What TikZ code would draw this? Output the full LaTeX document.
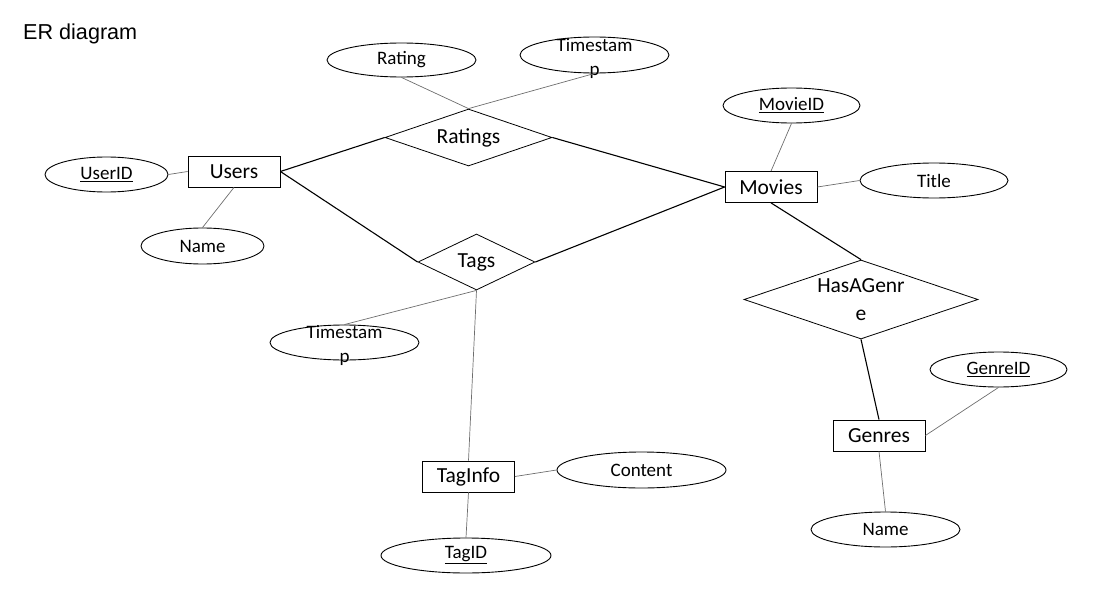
\documentclass[tikz,border=0pt]{standalone}
\usepackage{fontspec}
\setmainfont{Carlito}
\newfontfamily\titlefont{Liberation Sans}
\usepackage{xcolor}
\usepackage{tikz}
\usetikzlibrary{shapes.geometric}
\definecolor {linegray} {RGB}{110, 110, 110}

\tikzset{
	entity/.style={draw, thick, rectangle, minimum width=92pt, minimum height=31pt, inner sep=0pt, font=\fontsize{21.5}{26}\selectfont},
	attribute/.style={draw, line width=0.9pt, ellipse, minimum height=35pt, inner sep=0pt, font=\fontsize{19}{24}\selectfont},
	relation/.style={draw, thick, diamond, inner sep=0pt, aspect=2.95, align=center, font=\fontsize{21.5}{28}\selectfont},
	splitlabel/.style={align=center, inner sep=0pt, yshift=-3pt, font=\fontsize{19}{24}\selectfont},
	link/.style={draw, line width=1.1pt},
	attrlink/.style={draw, linegray, line width=0.7pt}
}

\begin{document}
\begin{tikzpicture}[x=1pt, y=-1pt]

	\useasboundingbox (0, 0) rectangle (1095, 594);

	\node [anchor=base west, inner sep=0pt, font=\titlefont\fontsize{21.6}{26}\selectfont] (heading) at (23, 40) {ER diagram};

	% Draw entities
	\node [entity] (users)   at (234, 171.5)   {Users};
	\node [entity] (movies)  at (771, 187)     {Movies};
	\node [entity] (genres)  at (879, 435.5)   {Genres};
	\node [entity] (taginfo) at (468.5, 476.5) {TagInfo};

	% Draw relationships
	\node [relation, minimum width=167pt, minimum height=57pt] (ratings)  at (468.5, 137.5) {Ratings};
	\node [relation, minimum width=117pt, minimum height=56pt] (tags)     at (476.5, 262)   {Tags};
	\node [relation, minimum width=234pt, minimum height=79pt] (hasgenre) at (861, 299.5)   {HasAGenr\\e};

	% Draw attributes
	\node [attribute, minimum width=149pt, minimum height=34pt] (rating) at (401.5, 60) {Rating};
	\node [attribute, minimum width=149pt, minimum height=36pt, label={[splitlabel]center:Timestam\\p}] (tsrating) at (594.5, 55) {};
	\node [attribute, minimum width=123pt] (userid)    at (106.5, 174.5) {\underline{UserID}};
	\node [attribute, minimum width=123pt, minimum height=36pt] (username) at (202.5, 246) {Name};
	\node [attribute, minimum width=137pt] (movieid)   at (791.5, 105.5) {\underline{MovieID}};
	\node [attribute, minimum width=148pt] (title)     at (934, 180.5)   {Title};
	\node [attribute, minimum width=137pt] (genreid)   at (998.5, 369.5) {\underline{GenreID}};
	\node [attribute, minimum width=149pt] (genrename) at (885.5, 529.5) {Name};
	\node [attribute, minimum width=149pt, label={[splitlabel]center:Timestam\\p}] (tstag) at (344.5, 342.5) {};
	\node [attribute, minimum width=169pt, minimum height=36pt] (content) at (641.5, 470) {Content};
	\node [attribute, minimum width=170pt] (tagid)     at (466, 555.5)   {\underline{TagID}};

	% Draw relationship links
	\path [link] (users.east) -- (ratings.west);
	\path [link] (users.east) -- (tags.west);
	\path [link] (ratings.east) -- (movies.west);
	\path [link] (tags.east) -- (movies.west);
	\path [link] (movies.south) -- (hasgenre.north);
	\path [link] (hasgenre.south) -- (genres.north);
	\path [attrlink] (tags.south) -- (taginfo.north);

	% Draw attribute links
	\path [attrlink] (userid.east) -- (users.west);
	\path [attrlink] (users.south) -- (username.north);
	\path [attrlink] (rating.south) -- (ratings.north);
	\path [attrlink] (tsrating.south) -- (ratings.north);
	\path [attrlink] (movieid.south) -- (movies.north);
	\path [attrlink] (movies.east) -- (title.west);
	\path [attrlink] (genres.east) -- (genreid.south);
	\path [attrlink] (genres.south) -- (genrename.north);
	\path [attrlink] (tags.south) -- (tstag.north);
	\path [attrlink] (taginfo.east) -- (content.west);
	\path [attrlink] (taginfo.south) -- (tagid.north);

\end{tikzpicture}
\end{document}
